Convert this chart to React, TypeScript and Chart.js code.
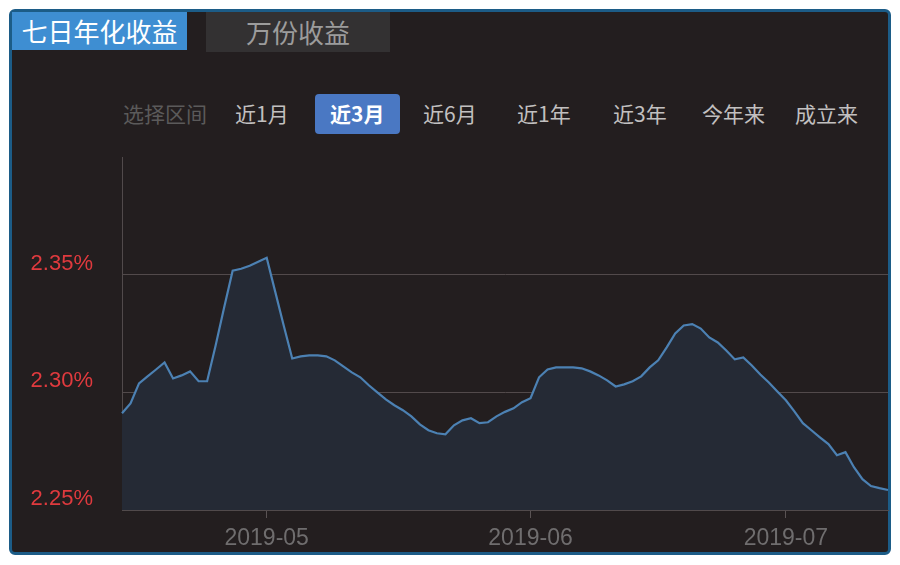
import React, { useEffect, useRef } from 'react';
import { Chart, registerables } from 'chart.js';

Chart.register(...registerables);

// ---- data ----
const startDay = '2019-04-14';
const dayCount = 91;

function buildDates(start: string, n: number): string[] {
  const out: string[] = [];
  const d = new Date(start + 'T00:00:00Z');
  for (let i = 0; i < n; i++) {
    const c = new Date(d.getTime() + i * 86400000);
    out.push(c.toISOString().slice(0, 10));
  }
  return out;
}
const dates: string[] = buildDates(startDay, dayCount);

const yieldApr: number[] = [
  2.2911, 2.2953, 2.3038, 2.3068, 2.3097, 2.3127, 2.3059, 2.3072, 2.3089, 2.3047,
  2.3047, 2.3199, 2.336, 2.3517, 2.3525, 2.3538, 2.3555,
];
const yieldMay: number[] = [
  2.3572, 2.3428, 2.3284, 2.3144, 2.3153, 2.3157, 2.3157, 2.3153, 2.3136, 2.311,
  2.3085, 2.3064, 2.303, 2.3, 2.297, 2.2945, 2.2924, 2.2898, 2.2864, 2.2839,
  2.2826, 2.2822, 2.286, 2.2881, 2.289, 2.2869, 2.2873, 2.2898, 2.2917, 2.2932,
  2.2958,
];
const yieldJun: number[] = [
  2.2975, 2.3064, 2.3097, 2.3106, 2.3106, 2.3106, 2.3102, 2.3089, 2.3072, 2.3051,
  2.3025, 2.3034, 2.3047, 2.3068, 2.3106, 2.3136, 2.3191, 2.325, 2.3284, 2.329,
  2.3271, 2.3233, 2.3212, 2.3178, 2.314, 2.3148, 2.3114, 2.3076, 2.3042, 2.3004,
];
const yieldJul: number[] = [
  2.2966, 2.2919, 2.2869, 2.2839, 2.2809, 2.278, 2.2733, 2.2746, 2.2682, 2.2631,
  2.2602, 2.2593, 2.2585,
];
const sevenDayYield: number[] = [...yieldApr, ...yieldMay, ...yieldJun, ...yieldJul];

const monthTickLabels: string[] = ['2019-05', '2019-06', '2019-07'];
const yTicks: number[] = [2.25, 2.3, 2.35, 2.4];
const yShownTicks: number[] = [2.25, 2.3, 2.35];

const tabs: string[] = ['七日年化收益', '万份收益'];
const rangeLabel = '选择区间';
const rangeOptions: string[] = ['近1月', '近3月', '近6月', '近1年', '近3年', '今年来', '成立来'];
const activeRange = '近3月';

// ---- helpers ----
const monthLabelAt = (i: number): string => {
  const d = dates[i];
  if (!d) return '';
  if (d.endsWith('-01')) {
    const m = d.slice(0, 7);
    return monthTickLabels.includes(m) ? m : '';
  }
  return '';
};

const CJK = '"Noto Sans CJK SC", "Noto Sans", sans-serif';
const LATIN = '"Liberation Sans", Arial, sans-serif';

const rangeLefts = [235, 330, 423, 517, 613, 702, 795];

export default function App() {
  const ref = useRef<HTMLCanvasElement>(null);

  useEffect(() => {
    document.body.style.margin = '0';
    const canvas = ref.current;
    if (!canvas) return;
    const chart = new Chart(canvas, {
      type: 'line',
      data: {
        labels: dates,
        datasets: [
          {
            data: sevenDayYield,
            borderColor: '#4c81b3',
            borderWidth: 2.2,
            backgroundColor: '#252a35',
            fill: 'start',
            pointRadius: 0,
            pointHoverRadius: 0,
            tension: 0,
          },
        ],
      },
      options: {
        animation: false,
        responsive: true,
        maintainAspectRatio: false,
        layout: { padding: { top: 7, right: 2, left: 0, bottom: 0 } },
        plugins: { legend: { display: false }, tooltip: { enabled: false } },
        scales: {
          x: {
            type: 'category',
            offset: false,
            grid: {
              drawOnChartArea: false,
              drawTicks: true,
              tickLength: 8,
              color: (ctx: any) => (monthLabelAt(ctx.index) ? '#5a5354' : 'rgba(0,0,0,0)'),
            },
            border: { display: true, color: '#514a4b', width: 1 },
            ticks: {
              autoSkip: false,
              maxRotation: 0,
              minRotation: 0,
              color: '#6f6d6e',
              padding: 7,
              font: { size: 23, family: LATIN },
              callback: (_v: any, i: number) => monthLabelAt(i),
            },
            afterFit: (s: any) => {
              s.height = 40;
              s.paddingLeft = 0;
              s.paddingRight = 0;
            },
          },
          y: {
            min: yTicks[0],
            max: yTicks[yTicks.length - 1],
            afterBuildTicks: (s: any) => {
              s.ticks = yTicks.map((v) => ({ value: v }));
            },
            grid: {
              drawTicks: false,
              color: (ctx: any) =>
                ctx.tick && yShownTicks.some((t) => Math.abs(t - ctx.tick.value) < 1e-6)
                  ? '#524a4b'
                  : 'rgba(0,0,0,0)',
            },
            border: { display: true, color: '#514a4b', width: 1 },
            ticks: {
              color: '#e03a3e',
              padding: 29,
              labelOffset: -11,
              font: { size: 22, family: LATIN },
              callback: (v: any) => {
                const n = Number(v);
                return yShownTicks.some((t) => Math.abs(t - n) < 1e-6) ? n.toFixed(2) + '%' : '';
              },
            },
            afterFit: (s: any) => {
              s.width = 112;
              s.paddingTop = 0;
              s.paddingBottom = 0;
            },
          },
        },
      },
    } as any);
    return () => chart.destroy();
  }, []);

  return (
    <div style={{ position: 'relative', width: 900, height: 565, background: '#ffffff', overflow: 'hidden' }}>
      <div
        style={{
          position: 'absolute',
          left: 9,
          top: 9,
          width: 882,
          height: 546,
          boxSizing: 'border-box',
          border: '3px solid #1c5c87',
          borderRadius: 6,
          background: '#231e1f',
        }}
      />
      <div
        style={{
          position: 'absolute',
          left: 12,
          top: 12,
          width: 175,
          height: 38,
          background: '#3e8ed2',
          color: '#ffffff',
          fontFamily: CJK,
          fontSize: 26,
          lineHeight: '38px',
          textAlign: 'center',
        }}
      >
        {tabs[0]}
      </div>
      <div
        style={{
          position: 'absolute',
          left: 206,
          top: 12,
          width: 184,
          height: 40,
          background: '#333132',
          color: '#9c9c9c',
          fontFamily: CJK,
          fontSize: 26,
          lineHeight: '40px',
          textAlign: 'center',
        }}
      >
        {tabs[1]}
      </div>
      <div
        style={{
          position: 'absolute',
          left: 123,
          top: 98,
          height: 30,
          lineHeight: '30px',
          fontFamily: CJK,
          fontSize: 21,
          color: '#5b5a5a',
          whiteSpace: 'nowrap',
        }}
      >
        {rangeLabel}
      </div>
      <div
        style={{
          position: 'absolute',
          left: 315,
          top: 94,
          width: 85,
          height: 40,
          background: '#4a78c3',
          borderRadius: 4,
        }}
      />
      {rangeOptions.map((r, i) => (
        <div
          key={r}
          style={{
            position: 'absolute',
            left: rangeLefts[i],
            top: 98,
            height: 30,
            lineHeight: '30px',
            fontFamily: CJK,
            fontSize: 21,
            fontWeight: r === activeRange ? 700 : 400,
            color: r === activeRange ? '#ffffff' : '#c2c0c0',
            whiteSpace: 'nowrap',
          }}
        >
          {r}
        </div>
      ))}
      <div style={{ position: 'absolute', left: 10, top: 150, width: 880, height: 400 }}>
        <canvas ref={ref} />
      </div>
    </div>
  );
}
